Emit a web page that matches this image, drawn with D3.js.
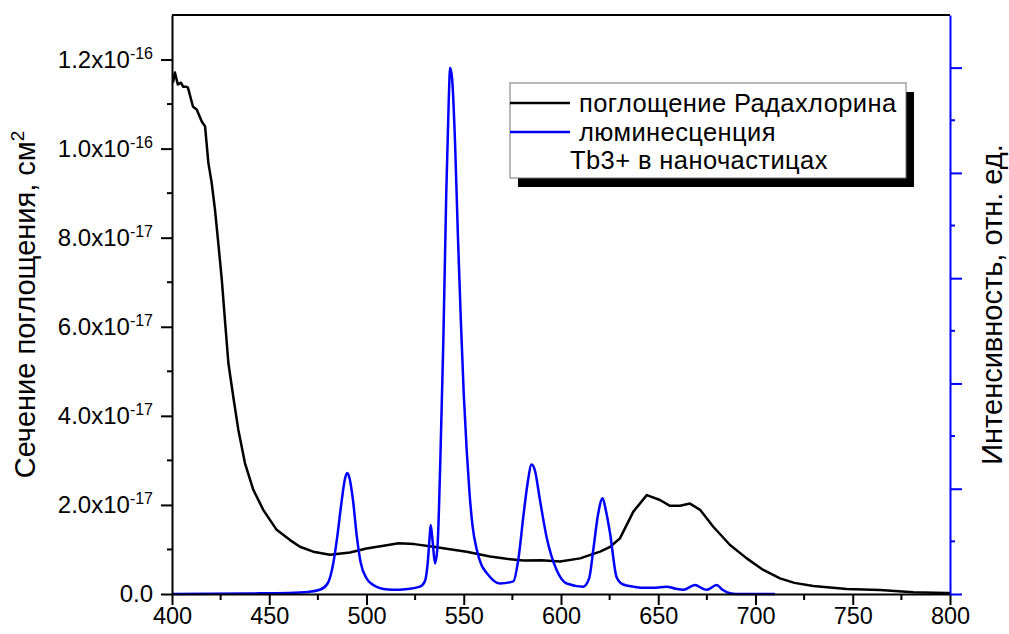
<!DOCTYPE html>
<html>
<head>
<meta charset="utf-8">
<script src="https://cdn.jsdelivr.net/npm/d3@7"></script>
<style>
  body { margin: 0; background: #fff; }
  text { font-family: "Liberation Sans", Arial, sans-serif; }
</style>
</head>
<body>
<div id="graph"></div>
<script>
// Absorption of Radachlorin, cross-section in units of 1e-17 cm^2
const absWavelength = [400.5, 401.5, 403, 404.6, 405.7, 407.2, 408.2, 410.8, 412.7, 415.3, 417, 418.7, 420.4, 422.1,
  423.8, 425.6, 427.2, 429, 431.5, 434.1, 437.5, 441.8, 446.9, 453.8, 460.7, 465.8, 472.6, 481.2, 491.5, 500, 508,
  516.5, 524.6, 534.3, 551.5, 563.5, 572, 580.6, 590, 599.5, 609.8, 620.1, 625, 630.3, 637.2, 644.1, 650.9, 656,
  661.2, 666.3, 671.5, 678.3, 686.9, 695.5, 704, 712.6, 720, 729.7, 746.9, 764, 781.1, 798.3, 800];
const absValue = [11.48, 11.71, 11.44, 11.48, 11.39, 11.39, 11.37, 10.94, 10.88, 10.61, 10.5, 9.68, 9.23, 8.63,
  7.88, 7.06, 6.16, 5.18, 4.43, 3.69, 2.94, 2.34, 1.89, 1.44, 1.21, 1.06, 0.95, 0.88, 0.93, 1.02, 1.08,
  1.14, 1.12, 1.06, 0.95, 0.84, 0.79, 0.75, 0.76, 0.73, 0.8, 0.95, 1.05, 1.25, 1.85, 2.22, 2.11, 1.98,
  1.98, 2.03, 1.89, 1.51, 1.1, 0.8, 0.54, 0.35, 0.25, 0.18, 0.11, 0.09, 0.04, 0.02, 0.02];
const absUnit = 1e-17;

// Tb3+ luminescence, relative units
const lumWavelength = [400, 440, 460, 470, 476, 480, 483, 485, 487, 489, 490, 491, 493, 495, 497, 500, 503.5, 508,
  513.8, 520, 527.5, 530, 531.5, 532.5, 533, 534, 535.2, 536.5, 538, 539.5, 541, 542.3, 543, 544, 545.5, 547, 548.5,
  550, 551.5, 553, 554.5, 556.7, 559, 561.8, 568.6, 575.5, 578, 580.6, 582.8, 584.9, 586.5, 589.2, 592.6, 597.7,
  602.9, 611.5, 614.5, 616.6, 619, 621.4, 623, 625.2, 628.6, 632, 637.2, 641, 647.5, 654.3, 659, 662.9, 668.9,
  673, 674.9, 680, 683, 686.9, 690, 710];
const lumValue = [0, 0.005, 0.01, 0.02, 0.04, 0.1, 0.3, 0.55, 0.85, 1.1, 1.15, 1.12, 0.9, 0.55, 0.3, 0.15, 0.085, 0.05,
  0.04, 0.045, 0.07, 0.12, 0.3, 0.55, 0.655, 0.5, 0.29, 0.45, 1.3, 2.4, 3.8, 4.7, 5.0, 4.9, 4.3, 3.4, 2.6,
  1.9, 1.37, 0.95, 0.65, 0.42, 0.28, 0.2, 0.1, 0.12, 0.32, 0.73, 1.05, 1.23, 1.18, 0.89, 0.54, 0.23,
  0.1, 0.07, 0.15, 0.42, 0.75, 0.91, 0.8, 0.58, 0.16, 0.09, 0.07, 0.06, 0.06, 0.07, 0.05, 0.04, 0.085,
  0.05, 0.04, 0.085, 0.04, 0.007, 0, 0];

// axis ticks
const xTicks = [400, 450, 500, 550, 600, 650, 700, 750, 800];
const xMinor = [425, 475, 525, 575, 625, 675, 725, 775];
const leftTicks = [0, 2e-17, 4e-17, 6e-17, 8e-17, 1e-16, 1.2e-16];
const leftMantissa = ["0.0", "2.0", "4.0", "6.0", "8.0", "1.0", "1.2"];
const leftExponent = ["", "-17", "-17", "-17", "-17", "-16", "-16"];
const leftMinor = [1e-17, 3e-17, 5e-17, 7e-17, 9e-17, 1.1e-16];
const rightTicks = [0, 1, 2, 3, 4, 5];
const rightMinor = [0.5, 1.5, 2.5, 3.5, 4.5];

const legendLabels = ["поглощение Радахлорина", "люминесценция", "Tb3+ в наночастицах"];
const yTitleLeft = "Сечение поглощения, см";
const yTitleRight = "Интенсивность, отн. ед.";

const W = 1009, H = 634;
const margin = {left: 172, right: 59, top: 15, bottom: 40};
const blue = "#0000ff";

const svg = d3.select("#graph").append("svg")
  .attr("width", W)
  .attr("height", H);

const x = d3.scaleLinear().domain([400, 800]).range([margin.left, W - margin.right]);
const yAbs = d3.scaleLinear().domain([0, 1.3e-16]).range([H - margin.bottom, margin.top]);
const yLum = d3.scaleLinear().domain([0, 5.5]).range([H - margin.bottom, margin.top]);

const absData = absWavelength.map((w, i) => ({w: w, v: absValue[i] * absUnit}));
const lumData = lumWavelength.map((w, i) => ({w: w, v: lumValue[i]}));

// curves
svg.append("path")
  .datum(absData)
  .attr("fill", "none")
  .attr("stroke", "black")
  .attr("stroke-width", 2.5)
  .attr("stroke-linejoin", "round")
  .attr("d", d3.line().x(d => x(d.w)).y(d => yAbs(d.v)));

svg.append("path")
  .datum(lumData)
  .attr("fill", "none")
  .attr("stroke", blue)
  .attr("stroke-width", 2.5)
  .attr("stroke-linejoin", "round")
  .attr("d", d3.line().curve(d3.curveMonotoneX).x(d => x(d.w)).y(d => yLum(d.v)));

function styleAxis(g, color) {
  g.select(".domain").attr("stroke", color).attr("stroke-width", 2);
  g.selectAll(".tick line").attr("stroke", color).attr("stroke-width", 2);
  g.selectAll(".tick text").attr("fill", "black").style("font-family", "'Liberation Sans', Arial, sans-serif");
}

// top frame line
svg.append("line")
  .attr("x1", margin.left).attr("x2", W - margin.right)
  .attr("y1", margin.top).attr("y2", margin.top)
  .attr("stroke", "black").attr("stroke-width", 2);

// bottom axis
const gx = svg.append("g")
  .attr("transform", `translate(0,${H - margin.bottom})`)
  .call(d3.axisBottom(x).tickValues(xTicks).tickSize(11).tickSizeOuter(0).tickPadding(2).tickFormat(d3.format("d")))
  .attr("font-size", 23.5);
styleAxis(gx, "black");
gx.append("g").selectAll("line").data(xMinor).enter().append("line")
  .attr("x1", d => x(d)).attr("x2", d => x(d))
  .attr("y1", 0).attr("y2", 6)
  .attr("stroke", "black").attr("stroke-width", 2);

// left axis
const gy = svg.append("g")
  .attr("transform", `translate(${margin.left},0)`)
  .call(d3.axisLeft(yAbs).tickValues(leftTicks).tickSize(11).tickSizeOuter(0).tickPadding(8).tickFormat(""))
  .attr("font-size", 24);
styleAxis(gy, "black");
gy.selectAll(".tick text").each(function(d, i) {
  const t = d3.select(this);
  t.text(null);
  if (leftExponent[i] === "") {
    t.append("tspan").text(leftMantissa[i]);
  } else {
    t.append("tspan").text(leftMantissa[i] + "x10");
    t.append("tspan").attr("font-size", 16).attr("dy", "-0.55em").text(leftExponent[i]);
  }
});
gy.append("g").selectAll("line").data(leftMinor).enter().append("line")
  .attr("x1", 0).attr("x2", -5)
  .attr("y1", d => yAbs(d)).attr("y2", d => yAbs(d))
  .attr("stroke", "black").attr("stroke-width", 2);

// right axis (blue, no labels)
const gr = svg.append("g")
  .attr("transform", `translate(${W - margin.right},0)`)
  .call(d3.axisRight(yLum).tickValues(rightTicks).tickSize(12).tickSizeOuter(0).tickFormat(""));
styleAxis(gr, blue);
gr.append("g").selectAll("line").data(rightMinor).enter().append("line")
  .attr("x1", 0).attr("x2", 5)
  .attr("y1", d => yLum(d)).attr("y2", d => yLum(d))
  .attr("stroke", blue).attr("stroke-width", 2);

// axis titles
const midY = (margin.top + H - margin.bottom) / 2;
const tl = svg.append("text")
  .attr("transform", `translate(35,${midY}) rotate(-90)`)
  .attr("text-anchor", "middle")
  .attr("font-size", 29);
tl.append("tspan").text(yTitleLeft);
tl.append("tspan").attr("font-size", 19).attr("dy", "-0.6em").text("2");

svg.append("text")
  .attr("transform", `translate(1002,${midY}) rotate(-90)`)
  .attr("text-anchor", "middle")
  .attr("font-size", 29)
  .text(yTitleRight);

// legend
const lg = svg.append("g").attr("transform", "translate(510,83)");
lg.append("rect").attr("x", 8).attr("y", 9).attr("width", 396).attr("height", 95).attr("fill", "black");
lg.append("rect").attr("x", 0).attr("y", 0).attr("width", 396).attr("height", 95)
  .attr("fill", "white").attr("stroke", "#777").attr("stroke-width", 1);
const legendColors = ["black", blue, null];
const rowY = [20, 49, 77];
legendLabels.forEach((lab, i) => {
  if (legendColors[i]) {
    lg.append("line").attr("x1", 0).attr("x2", 60)
      .attr("y1", rowY[i]).attr("y2", rowY[i])
      .attr("stroke", legendColors[i]).attr("stroke-width", 2.5);
  }
  lg.append("text")
    .attr("x", legendColors[i] ? 69 : 60)
    .attr("y", rowY[i] + 9)
    .attr("font-size", 25.5)
    .attr("letter-spacing", 0.4)
    .text(lab);
});
</script>
</body>
</html>
